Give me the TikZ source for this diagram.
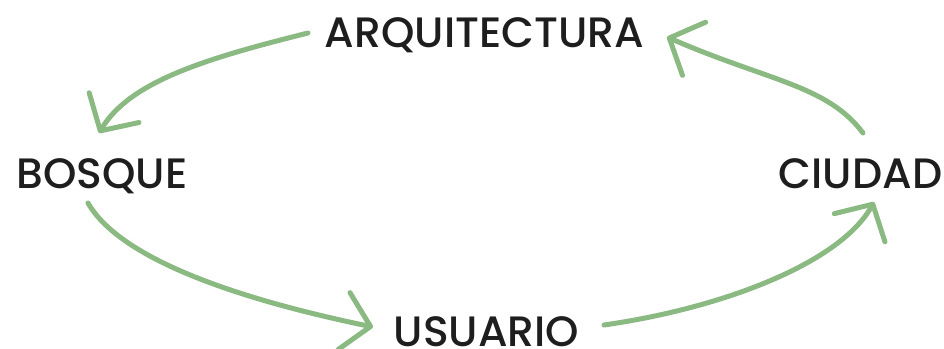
\documentclass[tikz,border=0pt]{standalone}
\usepackage{fontspec}
\newfontfamily\wordfont{Poppins}[UprightFont=* Medium]
\usetikzlibrary{arrows.meta,calc}
\definecolor{leaf}{RGB}{138,186,130}
\definecolor{ink}{RGB}{30,30,30}
\begin{document}
\begin{tikzpicture}[x=1pt,y=-1pt,
  word/.style={inner sep=0pt, anchor=base, text=ink, font=\wordfont\fontsize{42.5}{42.5}\selectfont},
  flow/.style={draw=leaf, line width=5pt, line cap=round,
    -{Straight Barb[round,length=27pt,width=58pt]}}]
\useasboundingbox (0,0) rectangle (944,348);

\node[word] (arq) at (484.5,47) {ARQUITECTURA};
\node[word] (bos) at (102,188) {BOSQUE};
\node[word] (ciu) at (860.5,188) {CIUDAD};
\node[word] (usu) at (486.5,346) {USUARIO};

% cycle: arquitectura -> bosque -> usuario -> ciudad -> arquitectura
\draw[flow] ($(arq.base)+(-176.5,-14)$) .. controls (208,58) and (130,81) .. ($(bos.base)+(-3,-55)$);
\draw[flow] ($(bos.base)+(-14,15)$) .. controls (123,264) and (257,303) .. ($(usu.base)+(-113.5,-19)$);
\draw[flow] ($(usu.base)+(117.5,-21)$) .. controls (723,308) and (840,263) .. ($(ciu.base)+(13.5,14)$);
\draw[flow] ($(ciu.base)+(2.5,-55)$) .. controls (827,85) and (768,81) .. ($(arq.base)+(182.5,-10)$);
\end{tikzpicture}
\end{document}
